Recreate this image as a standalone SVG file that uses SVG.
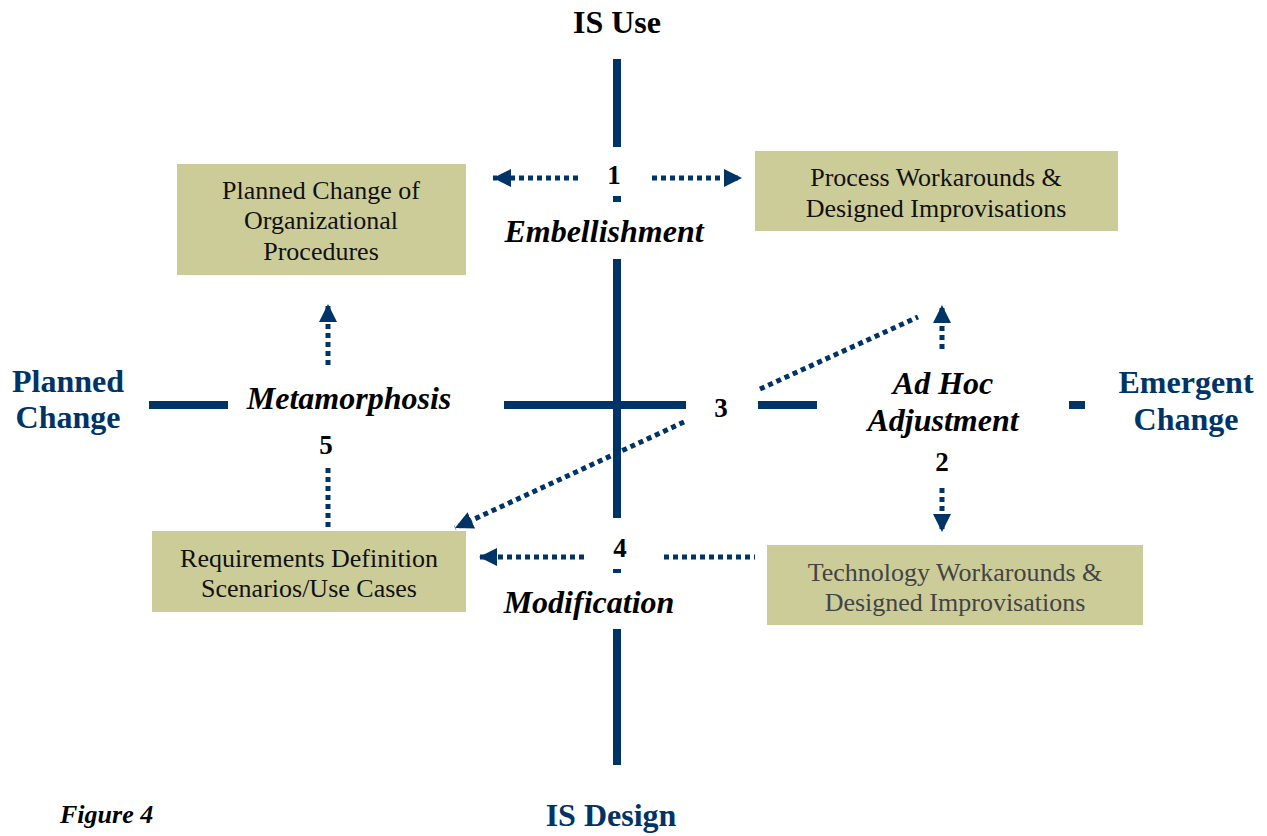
<svg xmlns="http://www.w3.org/2000/svg" width="1267" height="836" viewBox="0 0 1267 836">
<defs>
<style>
.axis{fill:#003366;}
.box{fill:#cccc99;}
.btxt{font-family:"Liberation Serif",serif;font-size:26px;fill:#111;text-anchor:middle;}
.gtxt{font-family:"Liberation Serif",serif;font-size:26px;fill:#444;text-anchor:middle;}
.lab{font-family:"Liberation Serif",serif;font-size:32px;font-weight:bold;font-style:italic;fill:#000;text-anchor:middle;}
.num{font-family:"Liberation Serif",serif;font-size:27px;font-weight:bold;fill:#000;text-anchor:middle;}
.ax{font-family:"Liberation Serif",serif;font-size:32px;font-weight:bold;fill:#003366;text-anchor:middle;}
.dot{fill:none;stroke:#003366;stroke-width:5;stroke-dasharray:5 4;}
</style>
<marker id="ah" markerUnits="userSpaceOnUse" markerWidth="20" markerHeight="18" refX="18" refY="9" orient="auto">
<path d="M0,0 L18,9 L0,18 z" fill="#003366"/>
</marker>
</defs>
<rect width="1267" height="836" fill="#fff"/>
<g id="axes">
<rect class="axis" x="613" y="59" width="8" height="88"/>
<rect class="axis" x="613" y="196" width="8" height="6"/>
<rect class="axis" x="613" y="259" width="8" height="259"/>
<rect class="axis" x="613" y="569" width="8" height="4"/>
<rect class="axis" x="613" y="629" width="8" height="136"/>
<rect class="axis" x="149" y="401" width="79" height="8"/>
<rect class="axis" x="504" y="401" width="182" height="8"/>
<rect class="axis" x="758" y="401" width="59" height="8"/>
<rect class="axis" x="1069" y="401" width="16" height="8"/>
</g>
<g id="axis-labels">
<text class="ax" x="617" y="33" style="fill:#000">IS Use</text>
<text class="ax" x="611" y="826">IS Design</text>
<text class="ax" x="68" y="392">Planned</text>
<text class="ax" x="68" y="428">Change</text>
<text class="ax" x="1186" y="393">Emergent</text>
<text class="ax" x="1186" y="430">Change</text>
</g>
<g id="node-planned">
<rect class="box" x="177" y="164" width="289" height="111"/>
<text class="btxt" x="321" y="199">Planned Change of</text>
<text class="btxt" x="321" y="229">Organizational</text>
<text class="btxt" x="321" y="260">Procedures</text>
</g>
<g id="node-process">
<rect class="box" x="755" y="151" width="363" height="80"/>
<text class="btxt" x="936" y="186">Process Workarounds &amp;</text>
<text class="btxt" x="936" y="217">Designed Improvisations</text>
</g>
<g id="node-requirements">
<rect class="box" x="152" y="531" width="314" height="81"/>
<text class="btxt" x="309" y="567">Requirements Definition</text>
<text class="btxt" x="309" y="597">Scenarios/Use Cases</text>
</g>
<g id="node-technology">
<rect class="box" x="767" y="545" width="376" height="80"/>
<text class="gtxt" x="955" y="581">Technology Workarounds &amp;</text>
<text class="gtxt" x="955" y="611">Designed Improvisations</text>
</g>
<g id="labels">
<text class="lab" x="604" y="242">Embellishment</text>
<text class="lab" x="349" y="409">Metamorphosis</text>
<text class="lab" x="943" y="394">Ad Hoc</text>
<text class="lab" x="943" y="431">Adjustment</text>
<text class="lab" x="589" y="613">Modification</text>
<text class="num" x="614" y="184">1</text>
<text class="num" x="942" y="471">2</text>
<text class="num" x="721" y="417">3</text>
<text class="num" x="620" y="557">4</text>
<text class="num" x="326" y="454">5</text>
<text x="60" y="823" font-family="Liberation Serif, serif" font-size="26" font-weight="bold" font-style="italic" fill="#000">Figure 4</text>
</g>
<g id="connectors">
<path class="dot" d="M578,178 L493,178" marker-end="url(#ah)"/>
<path class="dot" d="M652,178 L742,178" marker-end="url(#ah)"/>
<path class="dot" d="M328,365 L328,304" marker-end="url(#ah)"/>
<path class="dot" d="M328,468 L328,531"/>
<path class="dot" d="M760,389 L918,317"/>
<path class="dot" d="M942,349 L942,305" marker-end="url(#ah)"/>
<path class="dot" d="M684,422 L455,528" marker-end="url(#ah)"/>
<path class="dot" d="M942,488 L942,532" marker-end="url(#ah)"/>
<path class="dot" d="M584,557 L479,557" marker-end="url(#ah)"/>
<path class="dot" d="M664,557 L755,557"/>
</g>
</svg>
